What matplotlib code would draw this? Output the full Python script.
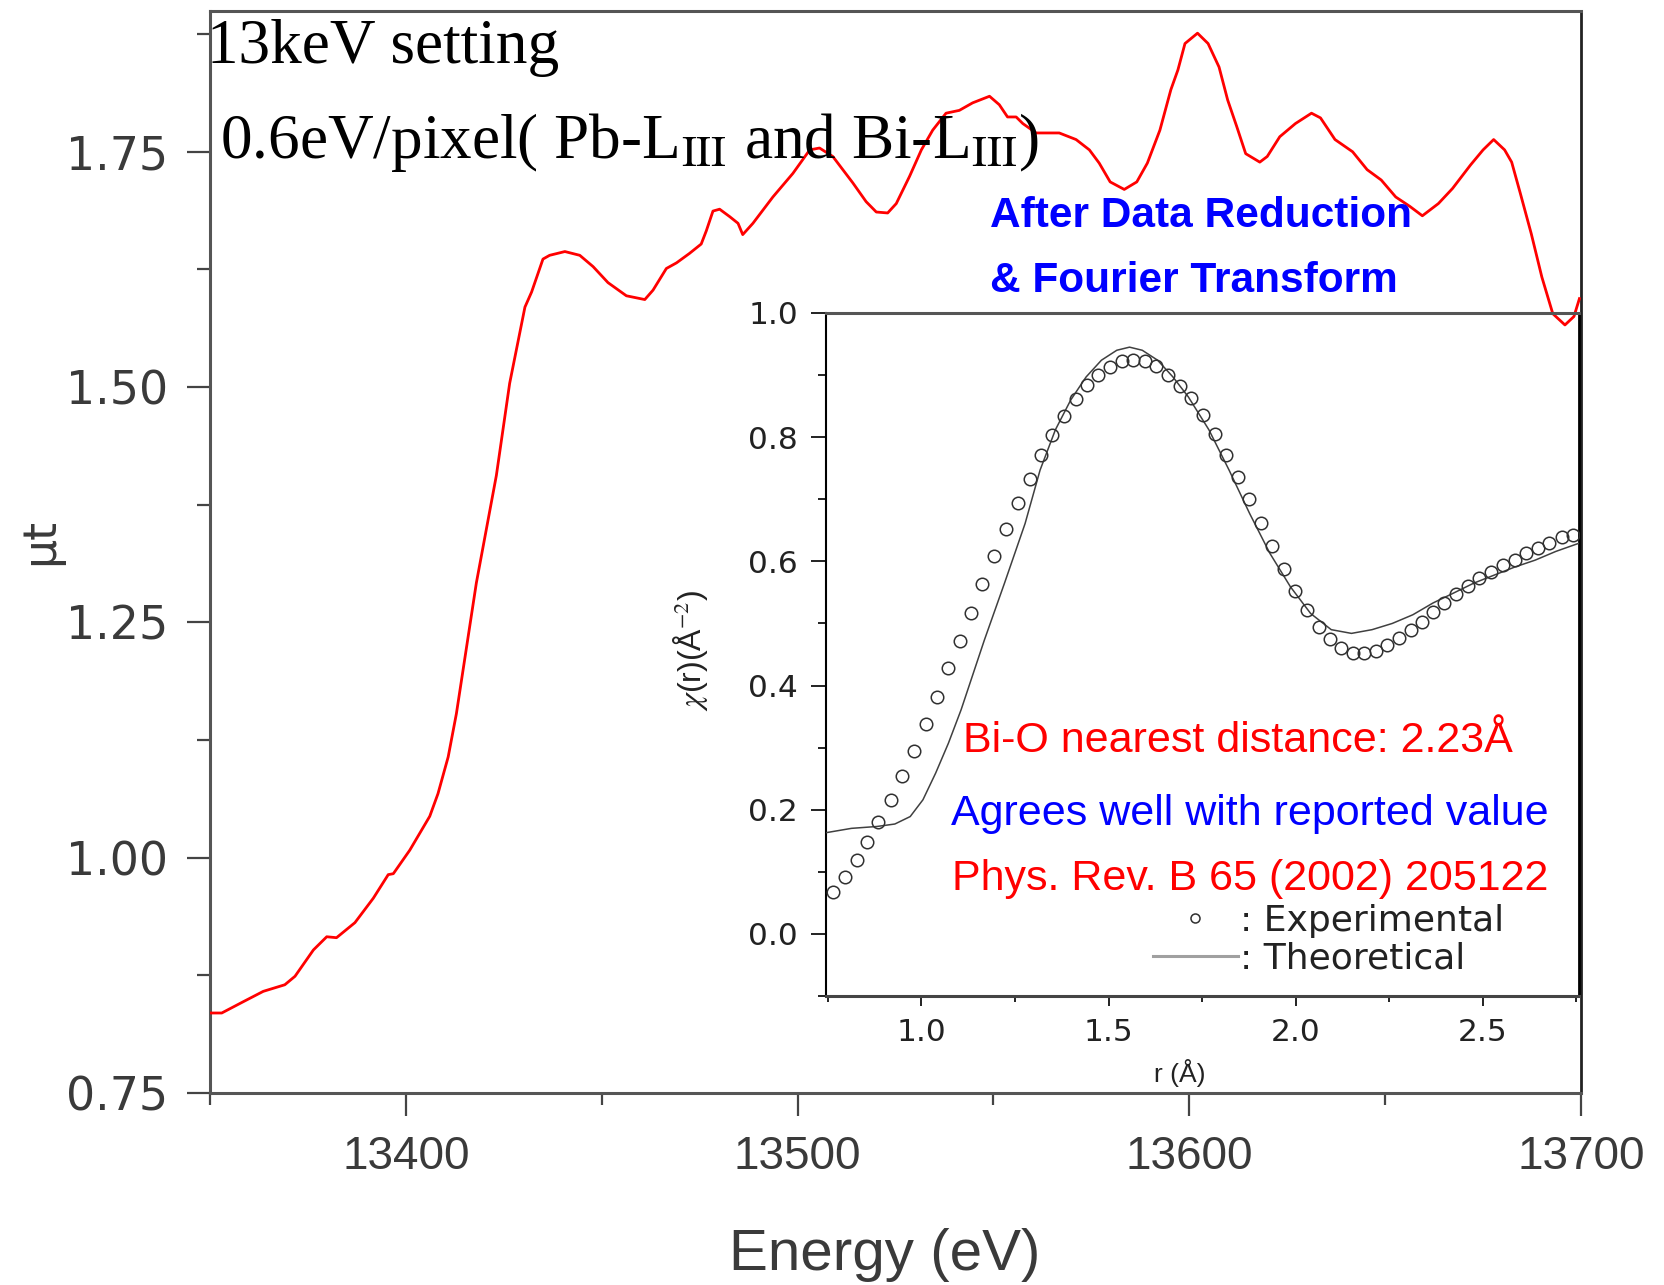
#!/usr/bin/env python

"""
./plot.py
XANES spectrum (13keV setting) with Fourier-transform inset
"""

import matplotlib
matplotlib.use('Agg')
import matplotlib.pyplot as plt
from matplotlib.ticker import MultipleLocator, FormatStrFormatter
from matplotlib.lines import Line2D

# main spectrum
energy = [13350.0, 13353.0, 13358.5, 13363.6, 13369.1, 13371.7, 13376.4, 13379.8, 13382.3, 13387.0,
          13391.7, 13395.5, 13396.8, 13401.0, 13406.1, 13408.2, 13410.8, 13412.9,
          13418.0, 13423.1, 13426.5, 13430.4, 13432.1, 13435.0, 13436.7, 13440.6, 13444.4, 13447.8,
          13451.6, 13456.3, 13461.0, 13463.1, 13466.5, 13469.1, 13472.4, 13475.4, 13476.7, 13478.4,
          13480.1, 13482.7, 13484.8, 13486.0, 13488.6,
          13493.7, 13498.8, 13503.1, 13505.6, 13509.0, 13514.1, 13517.5, 13520.1, 13523.0, 13525.2,
          13528.6, 13531.6, 13534.5, 13537.9, 13541.3, 13544.7, 13549.0, 13551.5, 13553.6, 13555.8,
          13557.5, 13560.9, 13566.8, 13571.1, 13574.5, 13577.0,
          13579.8, 13583.4, 13586.6, 13589.3, 13592.5, 13595.3, 13597.1, 13598.9, 13602.1, 13604.8,
          13607.6, 13609.8, 13612.1, 13614.4, 13618.0, 13619.9, 13623.1, 13627.1, 13631.2, 13633.5,
          13637.2, 13641.7, 13645.4, 13649.0, 13652.7, 13656.3, 13659.5, 13663.6, 13667.2, 13671.8,
          13675.0, 13677.7, 13680.5, 13682.3, 13684.5, 13687.3, 13690.0, 13692.8, 13695.9, 13698.2,
          13699.6]
mu_t = [0.835, 0.835, 0.847, 0.858, 0.865, 0.874, 0.902, 0.916, 0.915, 0.931,
        0.957, 0.982, 0.983, 1.008, 1.044, 1.068, 1.107, 1.153,
        1.292, 1.406, 1.504, 1.585, 1.601, 1.636, 1.640, 1.644, 1.640, 1.628,
        1.611, 1.597, 1.593, 1.603, 1.626, 1.632, 1.642, 1.652, 1.666, 1.687,
        1.689, 1.681, 1.674, 1.662, 1.674,
        1.702, 1.727, 1.752, 1.754, 1.745, 1.717, 1.697, 1.686, 1.685, 1.695,
        1.724, 1.752, 1.773, 1.791, 1.794, 1.802, 1.809, 1.800, 1.787, 1.787,
        1.780, 1.770, 1.770, 1.763, 1.752, 1.738,
        1.718, 1.710, 1.718, 1.738, 1.773, 1.816, 1.837, 1.865, 1.876, 1.865,
        1.840, 1.805, 1.777, 1.748, 1.739, 1.745, 1.766, 1.780, 1.791, 1.786,
        1.763, 1.750, 1.731, 1.720, 1.702, 1.692, 1.682, 1.695, 1.711, 1.736,
        1.752, 1.763, 1.752, 1.739, 1.706, 1.663, 1.617, 1.578, 1.566, 1.575,
        1.594]

# inset: experimental points
r_exp = [0.765, 0.795, 0.827, 0.854, 0.884, 0.918, 0.949, 0.979, 1.011, 1.041,
         1.072, 1.103, 1.133, 1.163, 1.195, 1.226, 1.259, 1.289, 1.319, 1.349,
         1.380, 1.412, 1.443, 1.471, 1.504, 1.536, 1.566, 1.597, 1.627, 1.658,
         1.690, 1.720, 1.751, 1.784, 1.815, 1.845, 1.875, 1.906, 1.938, 1.969,
         1.999, 2.030, 2.061, 2.092, 2.122, 2.153, 2.183, 2.215, 2.245, 2.276,
         2.307, 2.337, 2.367, 2.397, 2.429, 2.460, 2.490, 2.521, 2.554, 2.586,
         2.615, 2.647, 2.678, 2.711, 2.742]
chi_exp = [0.068, 0.092, 0.119, 0.148, 0.181, 0.216, 0.255, 0.295, 0.338, 0.382,
           0.428, 0.472, 0.517, 0.564, 0.608, 0.652, 0.694, 0.733, 0.771, 0.804,
           0.834, 0.862, 0.884, 0.900, 0.913, 0.922, 0.924, 0.922, 0.914, 0.900,
           0.882, 0.863, 0.836, 0.805, 0.772, 0.736, 0.700, 0.661, 0.624, 0.587,
           0.553, 0.521, 0.494, 0.475, 0.460, 0.453, 0.452, 0.456, 0.465, 0.476,
           0.490, 0.503, 0.519, 0.533, 0.547, 0.561, 0.573, 0.583, 0.594, 0.603,
           0.613, 0.621, 0.630, 0.639, 0.643]

# inset: theoretical curve
r_theo = [0.745, 0.813, 0.881, 0.929, 0.970, 1.004, 1.038, 1.072, 1.106, 1.168,
          1.222, 1.277, 1.317, 1.358, 1.399, 1.440, 1.481, 1.522, 1.556, 1.590,
          1.631, 1.672, 1.713, 1.768, 1.822, 1.877, 1.931, 1.986, 2.040, 2.095,
          2.149, 2.204, 2.258, 2.313, 2.367, 2.422, 2.476, 2.531, 2.586, 2.640,
          2.695, 2.756]
chi_theo = [0.163, 0.170, 0.173, 0.177, 0.189, 0.216, 0.259, 0.307, 0.361, 0.473,
            0.565, 0.661, 0.747, 0.812, 0.860, 0.897, 0.924, 0.940, 0.945, 0.940,
            0.924, 0.897, 0.865, 0.812, 0.747, 0.677, 0.613, 0.559, 0.516, 0.490,
            0.484, 0.490, 0.500, 0.514, 0.533, 0.549, 0.565, 0.578, 0.591, 0.602,
            0.616, 0.629]

plt.rcParams['mathtext.fontset'] = 'stix'

W, H = 1664, 1285


def fx(px):
    return px / W


def fy(py):
    return 1 - py / H


arial = ['Liberation Sans', 'DejaVu Sans']
serif = ['Liberation Serif', 'DejaVu Serif']

fig = plt.figure(figsize=(W / 100, H / 100), dpi=100)

# ---- main axes ----
ax = fig.add_axes([fx(210), fy(1093), fx(1581) - fx(210), (1093 - 10.6) / H])
ax.plot(energy, mu_t, color='#ff0000', lw=2.0, zorder=5)
ax.set_xlim(13350, 13700)
ax.set_ylim(0.75, 1.9)
ax.xaxis.set_major_locator(MultipleLocator(100))
ax.xaxis.set_minor_locator(MultipleLocator(50))
ax.yaxis.set_major_locator(MultipleLocator(0.25))
ax.yaxis.set_minor_locator(MultipleLocator(0.125))
ax.yaxis.set_major_formatter(FormatStrFormatter('%.2f'))
for side in ['left', 'bottom', 'top']:
    ax.spines[side].set_color('#555555')
    ax.spines[side].set_linewidth(2.2)
ax.spines['right'].set_color('#222222')
ax.spines['right'].set_linewidth(2.0)
ax.tick_params(axis='both', which='both', direction='out', color='#444444', width=1.6)
ax.tick_params(axis='y', which='major', length=16.5, pad=13.5, labelsize=33,
               labelcolor='#3a3a3a', labelfontfamily='DejaVu Sans')
ax.tick_params(axis='y', which='minor', length=9.4)
ax.tick_params(axis='x', which='major', length=16.5, pad=14, labelsize=33,
               labelcolor='#3a3a3a', labelfontfamily=arial)
ax.tick_params(axis='x', which='minor', length=8.5)

fig.text(fx(885), fy(1270), 'Energy (eV)', ha='center', va='baseline',
         fontsize=42, color='#3a3a3a', family=arial)
fig.text(fx(41), fy(541), 'μt', ha='center', va='center', rotation=90,
         fontsize=33, color='#3a3a3a', family='DejaVu Sans')

fig.text(fx(207), fy(63), '13keV setting', ha='left', va='baseline',
         fontsize=45.5, color='black', family=serif)
fig.text(fx(220), fy(158),
         r'0.6eV/pixel( Pb-L$_{\mathrm{III}}$ and Bi-L$_{\mathrm{III}}$)',
         ha='left', va='baseline', fontsize=45.5, color='black', family=serif)

fig.text(fx(990), fy(227), 'After Data Reduction', ha='left', va='baseline',
         fontsize=30.5, color='#0000ff', fontweight='bold', family=arial)
fig.text(fx(990), fy(292), '& Fourier Transform', ha='left', va='baseline',
         fontsize=30.5, color='#0000ff', fontweight='bold', family=arial)

# ---- inset ----
ax_in = fig.add_axes([fx(826), fy(996), fx(1579) - fx(826), (996 - 313) / H])
ax_in.set_facecolor('none')
ax_in.plot(r_theo, chi_theo, color='#404040', lw=1.1, zorder=3)
ax_in.plot(r_exp, chi_exp, linestyle='none', marker='o', ms=9, mfc='none',
           mec='#303030', mew=1.1, zorder=4)
ax_in.set_xlim(0.745, 2.757)
ax_in.set_ylim(-0.1, 1.0)
ax_in.xaxis.set_major_locator(MultipleLocator(0.5))
ax_in.xaxis.set_minor_locator(MultipleLocator(0.25))
ax_in.yaxis.set_major_locator(MultipleLocator(0.2))
ax_in.yaxis.set_minor_locator(MultipleLocator(0.1))
ax_in.xaxis.set_major_formatter(FormatStrFormatter('%.1f'))
ax_in.yaxis.set_major_formatter(FormatStrFormatter('%.1f'))
ax_in.spines['left'].set_color('black')
ax_in.spines['left'].set_linewidth(1.5)
ax_in.spines['bottom'].set_color('#444444')
ax_in.spines['bottom'].set_linewidth(2.2)
ax_in.spines['top'].set_color('#555555')
ax_in.spines['top'].set_linewidth(2.2)
ax_in.spines['right'].set_color('black')
ax_in.spines['right'].set_linewidth(2.0)
ax_in.tick_params(axis='both', which='both', direction='out', color='#222222', width=1.4)
ax_in.tick_params(axis='y', which='major', length=11, pad=9, labelsize=22.5,
                  labelcolor='#222222', labelfontfamily='DejaVu Sans')
ax_in.tick_params(axis='y', which='minor', length=5.5)
ax_in.tick_params(axis='x', which='major', length=7.5, pad=8, labelsize=22.5,
                  labelcolor='#222222', labelfontfamily='DejaVu Sans')
ax_in.tick_params(axis='x', which='minor', length=4.5)

fig.text(fx(1180), fy(1073), 'r (Å)', ha='center', va='center',
         fontsize=19, color='#222222', family=arial)
fig.text(fx(690), fy(650), r'$\chi$(r)(Å$^{-2}$)', ha='center', va='center',
         rotation=90, fontsize=23, color='#222222', family=arial)

fig.text(fx(963), fy(752), 'Bi-O nearest distance: 2.23Å', ha='left', va='baseline',
         fontsize=31, color='#ff0000', family=arial)
fig.text(fx(951), fy(825), 'Agrees well with reported value', ha='left', va='baseline',
         fontsize=31, color='#0000ff', family=arial)
fig.text(fx(952), fy(890), 'Phys. Rev. B 65 (2002) 205122', ha='left', va='baseline',
         fontsize=31, color='#ff0000', family=arial)

handles = [Line2D([], [], linestyle='none', marker='o', ms=6.5, mfc='none',
                  mec='#303030', mew=1.1),
           Line2D([], [], color='#a0a0a0', lw=2.2)]
leg = ax_in.legend(handles, [': Experimental', ': Theoretical'],
                   loc='upper left', bbox_to_anchor=(fx(1153), fy(904)),
                   bbox_transform=fig.transFigure, frameon=False,
                   borderpad=0, borderaxespad=0, handlelength=2.35,
                   handletextpad=0.05, labelspacing=0.1,
                   prop={'family': 'DejaVu Sans', 'size': 26})
for t in leg.get_texts():
    t.set_color('#222222')

plt.savefig('out.png', dpi=100)
plt.close()
